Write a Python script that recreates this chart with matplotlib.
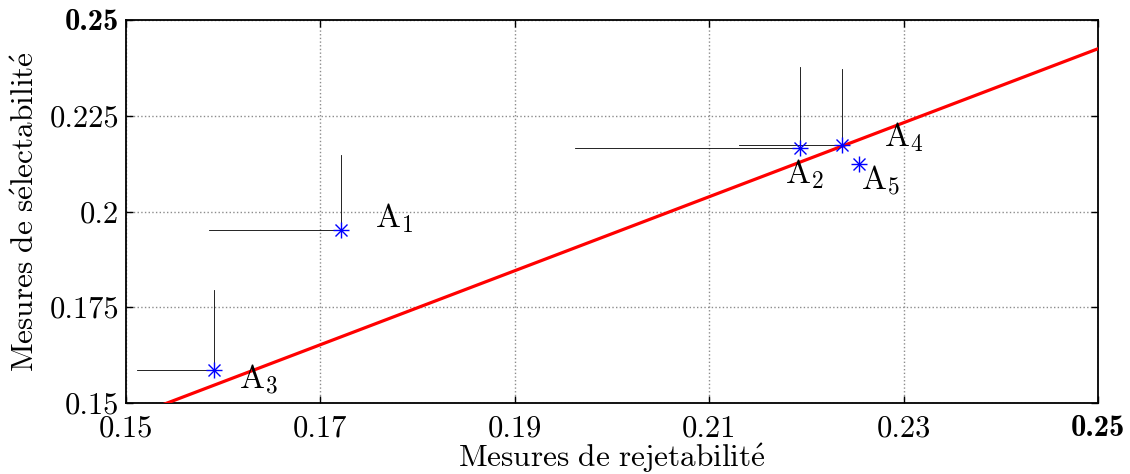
import numpy as np
import matplotlib
matplotlib.use("Agg")
import matplotlib.pyplot as plt

plt.rcParams['mathtext.fontset'] = 'cm'
plt.rcParams['axes.unicode_minus'] = False

# ---- data ----
names = ['1', '2', '3', '4', '5']
rejet = [0.1721, 0.2193, 0.1591, 0.2237, 0.2254]
select = [0.1951, 0.2166, 0.1586, 0.2174, 0.2124]
rejet_low = [0.1585, 0.1962, 0.1511, 0.2131, np.nan]
select_high = [0.2148, 0.2378, 0.1795, 0.2373, np.nan]
fit_x = [0.15, 0.25]
fit_y = [0.1459, 0.2425]
xticks = [0.15, 0.17, 0.19, 0.21, 0.23, 0.25]
xticklabels = ['0.15', '0.17', '0.19', '0.21', '0.23', '0.25']
yticks = [0.15, 0.175, 0.2, 0.225, 0.25]
yticklabels = ['0.15', '0.175', '0.2', '0.225', '0.25']

# label offsets (pixels) relative to points
label_off = [(34, 3), (-15, -35), (25, -18), (42, -1), (2, -25)]

fig = plt.figure(figsize=(11.3, 4.74), dpi=100)
ax = fig.add_axes([126/1130, 1-403/474, 972/1130, 383/474])

ax.set_xlim(0.15, 0.25)
ax.set_ylim(0.15, 0.25)

ax.grid(True, color='#8c8c8c', linestyle=':', linewidth=1.0)
ax.set_axisbelow(True)

# thin guide lines
for x, y, xl, yh in zip(rejet, select, rejet_low, select_high):
    if not np.isnan(xl):
        ax.plot([xl, x], [y, y], color='black', lw=0.6, zorder=2)
    if not np.isnan(yh):
        ax.plot([x, x], [y, yh], color='black', lw=0.6, zorder=2)

ax.plot(fit_x, fit_y, color='red', lw=2.3, zorder=3)

ax.plot(rejet, select, linestyle='none', marker='+', color='blue',
        markersize=11, markeredgewidth=1.0, zorder=4)
ax.plot(rejet, select, linestyle='none', marker='x', color='blue',
        markersize=8, markeredgewidth=1.0, zorder=4)

for n, x, y, (dx, dy) in zip(names, rejet, select, label_off):
    ax.annotate(r'$\mathrm{A}_{%s}$' % n, (x, y), xytext=(dx*0.72, dy*0.72),
                textcoords='offset points', ha='left', va='baseline',
                fontsize=24, color='black', zorder=5)

ax.set_xticks(xticks)
ax.set_yticks(yticks)
ax.set_xticklabels(xticklabels, fontfamily='cmr10', fontsize=22)
ax.set_yticklabels(yticklabels, fontfamily='cmr10', fontsize=22)
ax.get_xticklabels()[-1].set_fontfamily('cmb10')
ax.get_yticklabels()[-1].set_fontfamily('cmb10')

ax.tick_params(direction='in', length=5, width=1, top=True, right=True,
               colors='black')
ax.tick_params(axis='x', pad=9)
ax.tick_params(axis='y', pad=5)
for s in ax.spines.values():
    s.set_linewidth(1.3)
    s.set_color('black')

ax.set_xlabel(r'$\mathrm{Mesures\ de\ rejetabilit\acute{e}}$', fontsize=22.5,
              labelpad=-1.5)
ax.set_ylabel(r'$\mathrm{Mesures\ de\ s\acute{e}lectabilit\acute{e}}$', fontsize=22.5,
              labelpad=7)

fig.savefig('out.png', dpi=100)
